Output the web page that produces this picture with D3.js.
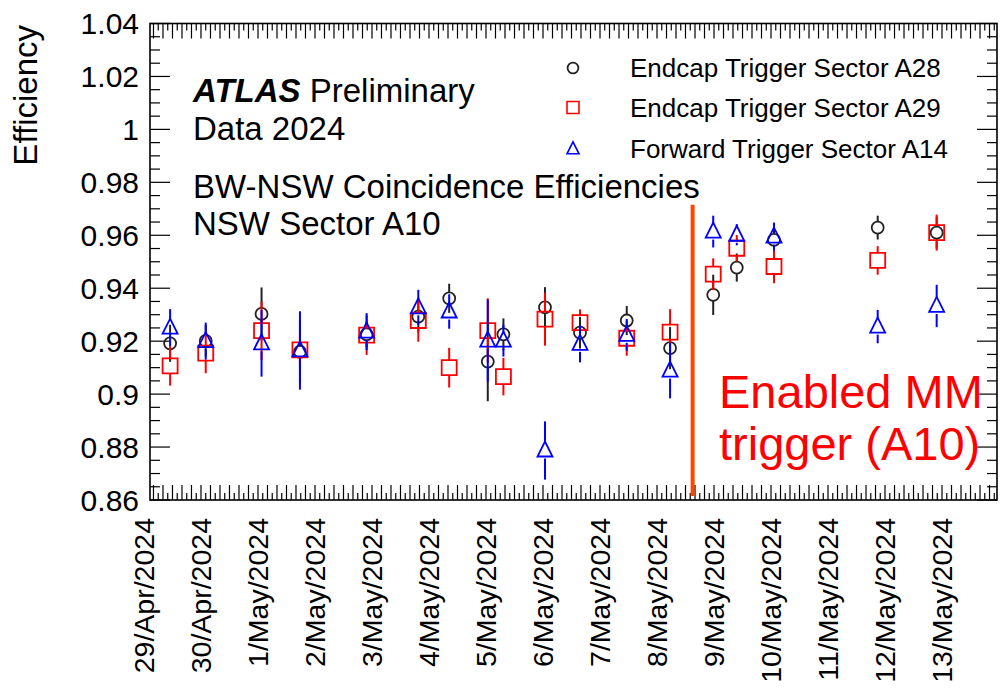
<!DOCTYPE html>
<html>
<head>
<meta charset="utf-8">
<script src="https://cdn.jsdelivr.net/npm/d3@7"></script>
<style>
  body { margin: 0; background: #fff; }
  text { font-family: "Liberation Sans", Arial, Helvetica, sans-serif; }
</style>
</head>
<body>
<svg id="chart"></svg>
<script>
let width = 1001;
let height = 693;

// run times (UTC) of each measurement, shared by the three sectors
let runTimes = ["2024-04-29T11:00", "2024-04-30T02:00", "2024-05-01T01:30", "2024-05-01T17:40",
  "2024-05-02T21:45", "2024-05-03T19:30", "2024-05-04T08:30", "2024-05-05T00:45",
  "2024-05-05T07:20", "2024-05-06T00:50", "2024-05-06T15:35", "2024-05-07T11:15",
  "2024-05-08T05:30", "2024-05-08T23:40", "2024-05-09T09:35", "2024-05-10T01:15",
  "2024-05-11T20:55", "2024-05-12T21:45"];

let effA28 = [0.9192, 0.9201, 0.9303, 0.9160, 0.9226, 0.9293, 0.9362, 0.9123, 0.9226,
  0.9328, 0.9232, 0.9278, 0.9174, 0.9375, 0.9478, 0.9583, 0.9629, 0.9610];
let errA28 = [0.007, 0.006, 0.010, 0.012, 0.005, 0.006, 0.0055, 0.015, 0.006,
  0.0076, 0.006, 0.0055, 0.008, 0.0076, 0.0053, 0.005, 0.0045, 0.006];

let effA29 = [0.9107, 0.9155, 0.9240, 0.9167, 0.9223, 0.9278, 0.9100, 0.9240, 0.9066,
  0.9283, 0.9270, 0.9211, 0.9234, 0.9453, 0.9551, 0.9482, 0.9505, 0.9610];
let errA29 = [0.0075, 0.0076, 0.011, 0.006, 0.0075, 0.008, 0.0075, 0.0122, 0.0071,
  0.010, 0.005, 0.0066, 0.0087, 0.006, 0.005, 0.0063, 0.0054, 0.0068];

let effA14 = [0.9251, 0.9200, 0.9192, 0.9165, 0.9236, 0.9328, 0.9312, 0.9202, 0.9202,
  0.8787, 0.9190, 0.9224, 0.9089, 0.9614, 0.9602, 0.9595, 0.9255, 0.9333];
let errA14 = [0.007, 0.007, 0.0126, 0.0148, 0.007, 0.0066, 0.0065, 0.0155, 0.006,
  0.011, 0.007, 0.006, 0.0105, 0.006, 0.004, 0.0053, 0.0063, 0.008];

let seriesNames = ["Endcap Trigger Sector A28", "Endcap Trigger Sector A29", "Forward Trigger Sector A14"];
let dayLabels = ["29/Apr/2024", "30/Apr/2024", "1/May/2024", "2/May/2024", "3/May/2024",
  "4/May/2024", "5/May/2024", "6/May/2024", "7/May/2024", "8/May/2024", "9/May/2024",
  "10/May/2024", "11/May/2024", "12/May/2024", "13/May/2024"];
let yTicks = [0.86, 0.88, 0.9, 0.92, 0.94, 0.96, 0.98, 1, 1.02, 1.04];
let mmEnabledTime = "2024-05-08T15:00";

let frameL = 150, frameR = 997, frameT = 23.5, frameB = 500;
let black = "#222";
let red = "#ff0000";
let blue = "#0000ff";

let parse = d3.utcParse("%Y-%m-%dT%H:%M");

let xax = d3.scaleUtc()
  .domain([parse("2024-04-29T02:32"), parse("2024-05-13T23:09")])
  .range([frameL, frameR]);

let yax = d3.scaleLinear()
  .domain([0.86, 1.04])
  .range([frameB, frameT]);

let svg = d3.select("#chart")
  .attr("width", width)
  .attr("height", height);

// ---- frame and ticks ----
let axisG = svg.append("g").attr("stroke", "#000").attr("stroke-width", 1.2);

let minorY = d3.range(0.86, 1.0401, 0.005).map(d => +d.toFixed(3));
minorY.forEach(v => {
  let major = yTicks.some(t => Math.abs(t - v) < 1e-6);
  let len = major ? 20 : 10;
  axisG.append("line").attr("x1", frameL).attr("x2", frameL + len).attr("y1", yax(v)).attr("y2", yax(v));
  axisG.append("line").attr("x1", frameR).attr("x2", frameR - len).attr("y1", yax(v)).attr("y2", yax(v));
});

xax.ticks(d3.utcHour.every(2)).forEach(t => {
  let len = t.getUTCHours() % 4 == 0 ? 15 : 7;
  let x = xax(t);
  axisG.append("line").attr("x1", x).attr("x2", x).attr("y1", frameB).attr("y2", frameB - len);
  axisG.append("line").attr("x1", x).attr("x2", x).attr("y1", frameT).attr("y2", frameT + len);
});

svg.append("rect")
  .attr("x", frameL).attr("y", frameT)
  .attr("width", frameR - frameL).attr("height", frameB - frameT)
  .attr("fill", "none").attr("stroke", "#000").attr("stroke-width", 1.6);

// y tick labels
svg.append("g").selectAll("text")
  .data(yTicks)
  .enter()
    .append("text")
    .attr("x", 139)
    .attr("y", d => yax(d))
    .attr("dy", "0.36em")
    .attr("text-anchor", "end")
    .attr("font-size", 30)
    .text(d => String(+d.toFixed(2)));

// x day labels, vertical
let day0 = parse("2024-04-29T00:00");
svg.append("g").selectAll("text")
  .data(dayLabels)
  .enter()
    .append("text")
    .attr("transform", (d, i) => `translate(${xax(d3.utcDay.offset(day0, i))}, 518) rotate(-90)`)
    .attr("dy", "0.36em")
    .attr("text-anchor", "end")
    .attr("font-size", 28.5)
    .text(d => d);

svg.append("text")
  .attr("transform", "translate(37, 25) rotate(-90)")
  .attr("text-anchor", "end")
  .attr("font-size", 33)
  .text("Efficiency");

// ---- MM trigger marker line ----
svg.append("line")
  .attr("x1", xax(parse(mmEnabledTime))).attr("x2", xax(parse(mmEnabledTime)))
  .attr("y1", yax(0.9715)).attr("y2", yax(0.8615))
  .attr("stroke", "#ff4500").attr("stroke-width", 4);

// ---- data ----
function markerPath(shape) {
  if (shape == "circle") return d3.symbol().type(d3.symbolCircle).size(Math.PI * 6 * 6)();
  if (shape == "square") return "M-7.5,-7.5H7.5V7.5H-7.5Z";
  return "M0,-9L7.5,6L-7.5,6Z";
}
let halfSize = { circle: 6, square: 7.5, triangle: 8 };

function drawSeries(values, errs, color, shape) {
  let g = svg.append("g");
  let pts = runTimes.map((t, i) => ({ x: xax(parse(t)), v: values[i], e: errs[i] }));
  g.selectAll("line.up")
    .data(pts)
    .enter()
      .append("line")
      .attr("x1", d => d.x).attr("x2", d => d.x)
      .attr("y1", d => yax(d.v) - halfSize[shape])
      .attr("y2", d => Math.min(yax(d.v + d.e), yax(d.v) - halfSize[shape]))
      .attr("stroke", color).attr("stroke-width", 2);
  g.selectAll("line.down")
    .data(pts)
    .enter()
      .append("line")
      .attr("x1", d => d.x).attr("x2", d => d.x)
      .attr("y1", d => yax(d.v) + halfSize[shape])
      .attr("y2", d => Math.max(yax(d.v - d.e), yax(d.v) + halfSize[shape]))
      .attr("stroke", color).attr("stroke-width", 2);
  g.selectAll("path")
    .data(pts)
    .enter()
      .append("path")
      .attr("d", markerPath(shape))
      .attr("transform", d => `translate(${d.x}, ${yax(d.v)})`)
      .attr("fill", "none")
      .attr("stroke", color)
      .attr("stroke-width", 1.8);
}

drawSeries(effA28, errA28, black, "circle");
drawSeries(effA29, errA29, red, "square");
drawSeries(effA14, errA14, blue, "triangle");

// ---- legend ----
let legend = [[black, "circle"], [red, "square"], [blue, "triangle"]];
let legendY = [68, 107.5, 149];
legend.forEach(([color, shape], i) => {
  let s = shape == "circle" ? 0.9 : 0.8;
  svg.append("path")
    .attr("d", markerPath(shape))
    .attr("transform", `translate(573, ${legendY[i]}) scale(${s})`)
    .attr("fill", "none")
    .attr("stroke", color)
    .attr("stroke-width", 2);
  svg.append("text")
    .attr("x", 630)
    .attr("y", legendY[i])
    .attr("dy", "0.36em")
    .attr("font-size", 26)
    .text(seriesNames[i]);
});

// ---- labels ----
let label = svg.append("text").attr("x", 193).attr("y", 102).attr("font-size", 33);
label.append("tspan").attr("font-weight", "bold").attr("font-style", "italic").text("ATLAS");
label.append("tspan").text(" Preliminary");

function addLabel(txt, x, y, size, color) {
  svg.append("text")
    .text(txt)
    .attr("x", x)
    .attr("y", y)
    .attr("font-size", size)
    .attr("fill", color || "#000");
}
addLabel("Data 2024", 193, 140, 33);
addLabel("BW-NSW Coincidence Efficiencies", 193, 198, 33);
addLabel("NSW Sector A10", 193, 235, 33);
addLabel("Enabled MM", 719, 408, 47, red);
addLabel("trigger (A10)", 719, 460, 47, red);
</script>
</body>
</html>
